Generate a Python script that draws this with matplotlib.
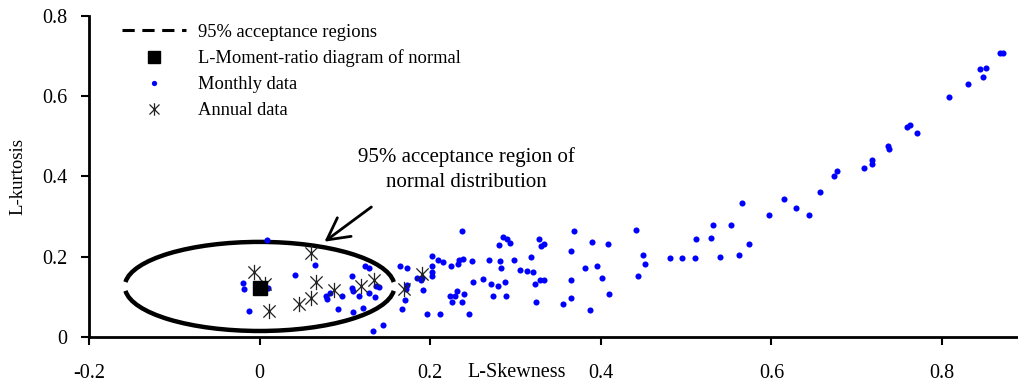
import matplotlib
matplotlib.use("Agg")
import matplotlib.pyplot as plt
from matplotlib.lines import Line2D
from matplotlib.patches import Arc
from matplotlib.path import Path

plt.rcParams['font.family'] = ['Liberation Serif', 'DejaVu Serif']

# ---------------- data ----------------
monthly_skew = [
    0.009, 0.065, 0.041, -0.020, -0.018, 0.010, -0.013, 0.078, 0.079, 0.082,
    0.092, 0.096, 0.108, 0.108, 0.109, 0.109, 0.117, 0.121, 0.124, 0.128,
    0.128, 0.135, 0.137, 0.140, 0.133, 0.145, 0.165, 0.173, 0.173, 0.172,
    0.170, 0.167, 0.184, 0.189, 0.190, 0.192, 0.196, 0.202, 0.202, 0.202,
    0.202, 0.209, 0.215, 0.211, 0.224, 0.232, 0.234, 0.238, 0.237, 0.223,
    0.229, 0.231, 0.226, 0.237, 0.239, 0.246, 0.249, 0.250, 0.262, 0.269,
    0.271, 0.274, 0.280, 0.281, 0.282, 0.283, 0.285, 0.290, 0.294, 0.288,
    0.289, 0.298, 0.305, 0.313, 0.320, 0.318, 0.323, 0.324, 0.328, 0.330,
    0.333, 0.329, 0.333, 0.356, 0.365, 0.368, 0.365, 0.365,
    0.382, 0.390, 0.387, 0.395, 0.401, 0.408, 0.409, 0.441, 0.443, 0.450,
    0.452, 0.481, 0.495, 0.510, 0.512, 0.529, 0.532, 0.540, 0.552, 0.562,
    0.566, 0.574, 0.597, 0.615, 0.629, 0.644, 0.657, 0.673, 0.677, 0.708,
    0.718, 0.718, 0.737, 0.738, 0.759, 0.762, 0.771, 0.808, 0.830, 0.844,
    0.848, 0.852, 0.868, 0.872,
]
monthly_kurt = [
    0.241, 0.179, 0.154, 0.135, 0.120, 0.123, 0.066, 0.103, 0.095, 0.109,
    0.069, 0.103, 0.153, 0.123, 0.115, 0.063, 0.101, 0.073, 0.176, 0.172,
    0.109, 0.100, 0.128, 0.124, 0.014, 0.029, 0.177, 0.171, 0.130, 0.120,
    0.093, 0.070, 0.146, 0.141, 0.147, 0.118, 0.057, 0.203, 0.177, 0.163,
    0.152, 0.193, 0.188, 0.057, 0.177, 0.183, 0.193, 0.194, 0.265, 0.103,
    0.103, 0.115, 0.086, 0.088, 0.107, 0.058, 0.190, 0.138, 0.145, 0.193,
    0.133, 0.103, 0.126, 0.230, 0.190, 0.173, 0.248, 0.243, 0.235, 0.138,
    0.101, 0.193, 0.167, 0.165, 0.163, 0.199, 0.131, 0.088, 0.243, 0.228,
    0.233, 0.143, 0.141, 0.083, 0.214, 0.263, 0.143, 0.097,
    0.171, 0.238, 0.068, 0.178, 0.148, 0.233, 0.106, 0.266, 0.152, 0.205,
    0.183, 0.198, 0.197, 0.198, 0.243, 0.246, 0.280, 0.200, 0.278, 0.204,
    0.333, 0.233, 0.303, 0.345, 0.322, 0.305, 0.362, 0.400, 0.414, 0.420,
    0.441, 0.430, 0.476, 0.469, 0.523, 0.528, 0.508, 0.598, 0.630, 0.668,
    0.648, 0.671, 0.707, 0.708,
]
annual_skew = [-0.007, 0.006, 0.011, 0.046, 0.060, 0.060, 0.066, 0.087,
               0.119, 0.134, 0.169, 0.190]
annual_kurt = [0.162, 0.133, 0.066, 0.083, 0.098, 0.210, 0.138, 0.118,
               0.128, 0.142, 0.120, 0.158]
normal_point = (0.0, 0.1226)          # L-skewness, L-kurtosis of normal
region_center = (0.0, 0.126)
region_width = 0.316
region_height = 0.222

legend_labels = ["95% acceptance regions", "L-Moment-ratio diagram of normal",
                 "Monthly data", "Annual data"]
annot_text = "95% acceptance region of\nnormal distribution"
annot_pos = (0.242, 0.418)
arrow_tail = (0.131, 0.324)
arrow_tip = (0.076, 0.2375)
x_ticks = [-0.2, 0, 0.2, 0.4, 0.6, 0.8]
x_ticklabels = ["-0.2", "0", "0.2", "0.4", "0.6", "0.8"]
y_ticks = [0, 0.2, 0.4, 0.6, 0.8]
y_ticklabels = ["0", "0.2", "0.4", "0.6", "0.8"]

# ---------------- figure ----------------
fig = plt.figure(figsize=(10.18, 3.87), dpi=100)
ax = fig.add_axes([89/1018, 1 - 337/387, 929/1018, 321/387])

star = Path([(-1, -1), (1, 1), (-1, 1), (1, -1), (0, -1.25), (0, 1.25)],
            [Path.MOVETO, Path.LINETO, Path.MOVETO, Path.LINETO,
             Path.MOVETO, Path.LINETO])

# acceptance region (two halves)
for t1, t2 in [(4, 176), (184, 356)]:
    ax.add_patch(Arc(region_center, region_width, region_height,
                     theta1=t1, theta2=t2, color='black', lw=3.2, zorder=2))

ax.plot(monthly_skew, monthly_kurt, 'o', color='#0000FF', ms=4.4, mew=0,
        zorder=3, clip_on=False)
ax.plot(annual_skew, annual_kurt, linestyle='none', marker=star, ms=11,
        mfc='none', mec='#222222', mew=0.9, zorder=4)
ax.plot([normal_point[0]], [normal_point[1]], 's', color='black', ms=10,
        zorder=5)

ax.text(annot_pos[0], annot_pos[1], annot_text, ha='center', va='center',
        fontsize=15, linespacing=1.45, multialignment='center')
ax.annotate('', xy=arrow_tip, xytext=arrow_tail,
            arrowprops=dict(arrowstyle='->, head_length=0.6, head_width=0.32',
                            lw=2, color='black', mutation_scale=26,
                            shrinkA=0, shrinkB=0))

ax.set_xlim(-0.2, 0.889)
ax.set_ylim(0, 0.8)
ax.set_xticks(x_ticks)
ax.set_xticklabels(x_ticklabels)
ax.set_yticks(y_ticks)
ax.set_yticklabels(y_ticklabels)
ax.tick_params(labelsize=14.5, length=5.5, width=1.5, direction='out')
ax.tick_params(axis='x', pad=14)
ax.tick_params(axis='y', pad=10)
for s in ['top', 'right']:
    ax.spines[s].set_visible(False)
for s in ['left', 'bottom']:
    ax.spines[s].set_linewidth(2)

ax.set_ylabel("L-kurtosis", fontsize=13.5)
ax.yaxis.set_label_coords(-0.067, 0.5)
ax.set_xlabel("L-Skewness", fontsize=14.5)
ax.xaxis.set_label_coords(0.46, -0.082)

handles = [
    Line2D([], [], color='black', ls=(0, (4, 2.5)), lw=2.2),
    Line2D([], [], color='black', marker='s', ls='none', ms=9),
    Line2D([], [], color='#0000FF', marker='o', ls='none', ms=3.8, mew=0),
    Line2D([], [], color='#222222', marker=star, ls='none', ms=9, mfc='none',
           mew=0.9),
]
ax.legend(handles, legend_labels, loc='upper left',
          bbox_to_anchor=(0.018, 1.028), frameon=False, fontsize=13.3,
          handlelength=3.45, handletextpad=0.62, labelspacing=0.48)

fig.savefig("out.png", dpi=100)
